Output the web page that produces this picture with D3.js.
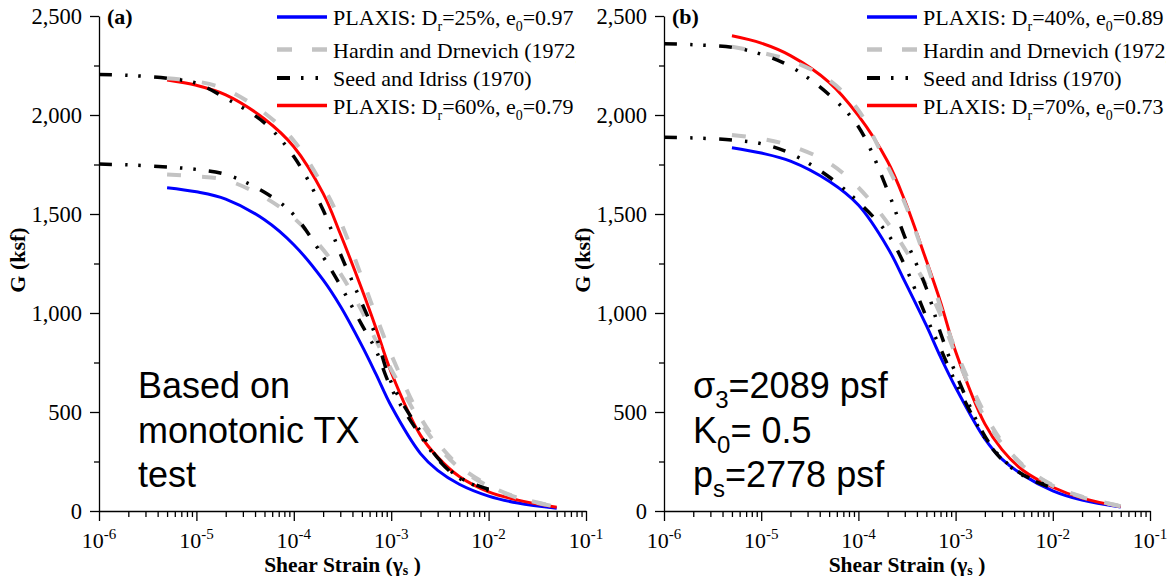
<!DOCTYPE html>
<html><head><meta charset="utf-8">
<script src="https://cdn.jsdelivr.net/npm/d3@7"></script>
<style>body{margin:0;background:#fff}svg{display:block}</style>
</head><body>
<svg id="c" width="1171" height="576"></svg>
<script>
// ---------- data ----------
const strainDecades = [1e-6, 1e-5, 1e-4, 1e-3, 1e-2, 1e-1];
const decadeExponents = ["-6", "-5", "-4", "-3", "-2", "-1"];
const minorMultipliers = [2, 3, 4, 5, 6, 7, 8, 9];
const gTicks = [0, 500, 1000, 1500, 2000, 2500];
const gMinorTicks = [250, 750, 1250, 1750, 2250];

// strain values at which the curves were read (Seed & Idriss curves start at 1e-6 and end at 1e-2)
const gammaSeed  = [1e-6, 2e-6, 5e-6, 1e-5, 2e-5, 5e-5, 1e-4, 2e-4, 3e-4, 5e-4, 7e-4, 1e-3, 2e-3, 3e-3, 5e-3, 1e-2];
const gammaModel = [5e-6, 1e-5, 2e-5, 5e-5, 1e-4, 2e-4, 3e-4, 5e-4, 7e-4, 1e-3, 2e-3, 3e-3, 5e-3, 1e-2, 2e-2, 5e-2];

// panel (a)
const plaxisA25 = [1633, 1612, 1575, 1471, 1345, 1167, 1035, 835, 690, 530, 290, 205, 135, 75, 40, 14];
const plaxisA60 = [2177, 2150, 2102, 1980, 1840, 1604, 1400, 1120, 922, 701, 382, 272, 174, 97, 55, 19];
const hardinAHigh = [2185, 2170, 2130, 2010, 1870, 1639, 1465, 1179, 985, 790, 472, 345, 228, 130, 68, 22];
const hardinALow  = [1700, 1690, 1672, 1584, 1480, 1320, 1200, 1010, 860, 715, 450, 330, 218, 125, 66, 21];
const seedAHigh = [2205, 2200, 2185, 2160, 2085, 1960, 1790, 1520, 1300, 1050, 880, 650, 400, 268, 170, 110];
const seedALow  = [1752, 1748, 1737, 1725, 1700, 1610, 1496, 1284, 1140, 940, 810, 620, 380, 262, 165, 105];

// panel (b)
const plaxisB40 = [1835, 1808, 1767, 1665, 1545, 1330, 1160, 937, 778, 624, 364, 262, 180, 102, 55, 20];
const plaxisB70 = [2400, 2363, 2300, 2165, 1997, 1765, 1568, 1265, 1055, 806, 440, 310, 203, 120, 65, 22];
const hardinBHigh = [2345, 2315, 2275, 2176, 2024, 1740, 1556, 1257, 1030, 813, 491, 350, 229, 130, 72, 25];
const hardinBLow  = [1899, 1880, 1845, 1758, 1634, 1455, 1324, 1140, 990, 790, 470, 340, 225, 128, 70, 24];
const seedBHigh = [2360, 2355, 2342, 2307, 2245, 2102, 1941, 1618, 1385, 1125, 899, 696, 378, 265, 182, 118];
const seedBLow  = [1887, 1884, 1874, 1855, 1806, 1687, 1560, 1400, 1240, 980, 820, 650, 370, 260, 178, 115];

// ---------- drawing ----------
const svg = d3.select("#c");
const SERIF = "'Liberation Serif','Times New Roman',serif";
const SANS = "'Liberation Sans',Arial,sans-serif";

const styles = {
  blue:  {stroke: "#0000ff", width: 3, dash: null},
  red:   {stroke: "#ff0000", width: 3, dash: null},
  gray:  {stroke: "#c3c3c3", width: 4, dash: "14,21"},
  seed:  {stroke: "#000000", width: 3.5, dash: "13,13,2.5,11,2.5,13"}
};

function richText(g, x, y, parts, attrs) {
  const t = g.append("text").attr("x", x).attr("y", y);
  Object.entries(attrs).forEach(([k, v]) => t.attr(k, v));
  let shift = 0;
  parts.forEach(p => {
    const s = t.append("tspan").text(p.t);
    const target = p.dy || 0;
    if (target !== shift) { s.attr("dy", target - shift); shift = target; }
    if (p.size) s.attr("font-size", p.size);
    if (p.weight) s.attr("font-weight", p.weight);
  });
  return t;
}

function drawPanel(cfg) {
  const g = svg.append("g");
  const x = d3.scaleLog().domain([1e-6, 1e-1]).range([cfg.x0, cfg.x1]);
  const y = d3.scaleLinear().domain([0, 2500]).range([511, 16]);

  // axes
  const yAxis = g.append("g").attr("transform", `translate(${cfg.x0},0)`)
    .call(d3.axisLeft(y).tickValues(gTicks).tickFormat(d3.format(",")).tickSize(9).tickSizeOuter(0).tickPadding(8));
  yAxis.selectAll("text").attr("font-family", SERIF).attr("font-size", 22.5).attr("fill", "#000");
  const yMinor = g.append("g").attr("transform", `translate(${cfg.x0},0)`)
    .call(d3.axisLeft(y).tickValues(gMinorTicks).tickFormat("").tickSize(5).tickSizeOuter(0));
  yMinor.select(".domain").remove();

  const minorX = [];
  strainDecades.slice(0, -1).forEach(d => minorMultipliers.forEach(m => minorX.push(d * m)));
  g.append("g").attr("transform", "translate(0,511)")
    .call(d3.axisBottom(x).tickValues(strainDecades).tickFormat("").tickSize(10).tickSizeOuter(0));
  const xMinor = g.append("g").attr("transform", "translate(0,511)")
    .call(d3.axisBottom(x).tickValues(minorX).tickFormat("").tickSize(6).tickSizeOuter(0));
  xMinor.select(".domain").remove();
  g.selectAll(".domain, .tick line").attr("stroke", "#000").attr("stroke-width", 1.3);

  strainDecades.forEach((d, i) => {
    richText(g, x(d), 548, [{t: "10"}, {t: decadeExponents[i], dy: -9, size: 15}],
      {"font-family": SERIF, "font-size": 22, "text-anchor": "middle"});
  });

  // axis titles
  richText(g, (cfg.x0 + cfg.x1) / 2, 571.5,
    [{t: "Shear Strain (γ"}, {t: "s", dy: 3, size: 14}, {t: " )", dy: 0}],
    {"font-family": SERIF, "font-size": 21.5, "font-weight": "bold", "text-anchor": "middle"});
  g.append("text").attr("transform", `translate(${cfg.x0 - 74},260) rotate(-90)`)
    .attr("text-anchor", "middle").attr("font-family", SERIF).attr("font-size", 22)
    .attr("font-weight", "bold").text("G (ksf)");

  // panel label
  g.append("text").attr("x", cfg.x0 + 8).attr("y", 24).attr("font-family", SERIF)
    .attr("font-size", 22).attr("font-weight", "bold").text(cfg.label);

  // curves
  const line = d3.line().x(d => x(d[0])).y(d => y(d[1])).curve(d3.curveCatmullRom.alpha(0.5));
  cfg.series.forEach(s => {
    const st = styles[s.style];
    const pts = s.gamma.map((gm, i) => [gm, s.values[i]]);
    const p = g.append("path").attr("d", line(pts)).attr("fill", "none")
      .attr("stroke", st.stroke).attr("stroke-width", st.width).attr("stroke-linejoin", "round");
    if (st.dash) p.attr("stroke-dasharray", st.dash);
  });

  // legend
  const lx = cfg.legendX;
  const rows = [25, 57.5, 86, 113.5];
  cfg.legend.forEach((item, i) => {
    const st = styles[item.style];
    const ly = rows[i] - 8;
    const l = g.append("line").attr("x1", lx).attr("x2", lx + 50).attr("y1", ly).attr("y2", ly)
      .attr("stroke", st.stroke).attr("stroke-width", st.width + 0.5);
    if (item.style === "gray") l.attr("stroke-dasharray", "15,20");
    if (item.style === "seed") l.attr("stroke-dasharray", "13,11,2.5,12,2.5,20");
    const t = richText(g, lx + 56, rows[i], item.parts, {"font-family": SERIF, "font-size": 22});
    if (item.clipLast) {
      // the reference clips the closing parenthesis of this label
      const n = item.parts[0].t.length;
      const w = t.node().getSubStringLength(0, n - 1);
      const clipId = "clip" + cfg.label.replace(/\W/g, "");
      svg.append("clipPath").attr("id", clipId).append("rect")
        .attr("x", lx + 56).attr("y", 0).attr("width", w + 0.5).attr("height", 140);
      t.attr("clip-path", `url(#${clipId})`);
    }
  });

  // annotation
  cfg.note.forEach((parts, i) => {
    richText(g, cfg.noteX, 398 + i * 44.7, parts, {"font-family": SANS, "font-size": 36});
  });
}

const subR = (a, b, c, d) => [{t: a}, {t: b, dy: 6, size: 14}, {t: c, dy: 0}, {t: "0", dy: 6, size: 14}, {t: d, dy: 0}];

drawPanel({
  x0: 99, x1: 586, label: "(a)", legendX: 277, noteX: 138,
  series: [
    {gamma: gammaModel, values: plaxisA25, style: "blue"},
    {gamma: gammaModel, values: plaxisA60, style: "red"},
    {gamma: gammaModel, values: hardinAHigh, style: "gray"},
    {gamma: gammaModel, values: hardinALow, style: "gray"},
    {gamma: gammaSeed, values: seedAHigh, style: "seed"},
    {gamma: gammaSeed, values: seedALow, style: "seed"}
  ],
  legend: [
    {style: "blue", parts: subR("PLAXIS: D", "r", "=25%, e", "=0.97")},
    {style: "gray", parts: [{t: "Hardin and Drnevich (1972)"}], clipLast: true},
    {style: "seed", parts: [{t: "Seed and Idriss (1970)"}]},
    {style: "red", parts: subR("PLAXIS: D", "r", "=60%, e", "=0.79")}
  ],
  note: [[{t: "Based on"}], [{t: "monotonic TX"}], [{t: "test"}]]
});

drawPanel({
  x0: 664, x1: 1150, label: "(b)", legendX: 867, noteX: 693,
  series: [
    {gamma: gammaModel, values: plaxisB40, style: "blue"},
    {gamma: gammaModel, values: plaxisB70, style: "red"},
    {gamma: gammaModel, values: hardinBHigh, style: "gray"},
    {gamma: gammaModel, values: hardinBLow, style: "gray"},
    {gamma: gammaSeed, values: seedBHigh, style: "seed"},
    {gamma: gammaSeed, values: seedBLow, style: "seed"}
  ],
  legend: [
    {style: "blue", parts: subR("PLAXIS: D", "r", "=40%, e", "=0.89")},
    {style: "gray", parts: [{t: "Hardin and Drnevich (1972)"}], clipLast: true},
    {style: "seed", parts: [{t: "Seed and Idriss (1970)"}]},
    {style: "red", parts: subR("PLAXIS: D", "r", "=70%, e", "=0.73")}
  ],
  note: [
    [{t: "σ"}, {t: "3", dy: 10, size: 24}, {t: "=2089 psf", dy: 0}],
    [{t: "K"}, {t: "0", dy: 10, size: 24}, {t: "= 0.5", dy: 0}],
    [{t: "p"}, {t: "s", dy: 10, size: 24}, {t: "=2778 psf", dy: 0}]
  ]
});
</script>
</body></html>
